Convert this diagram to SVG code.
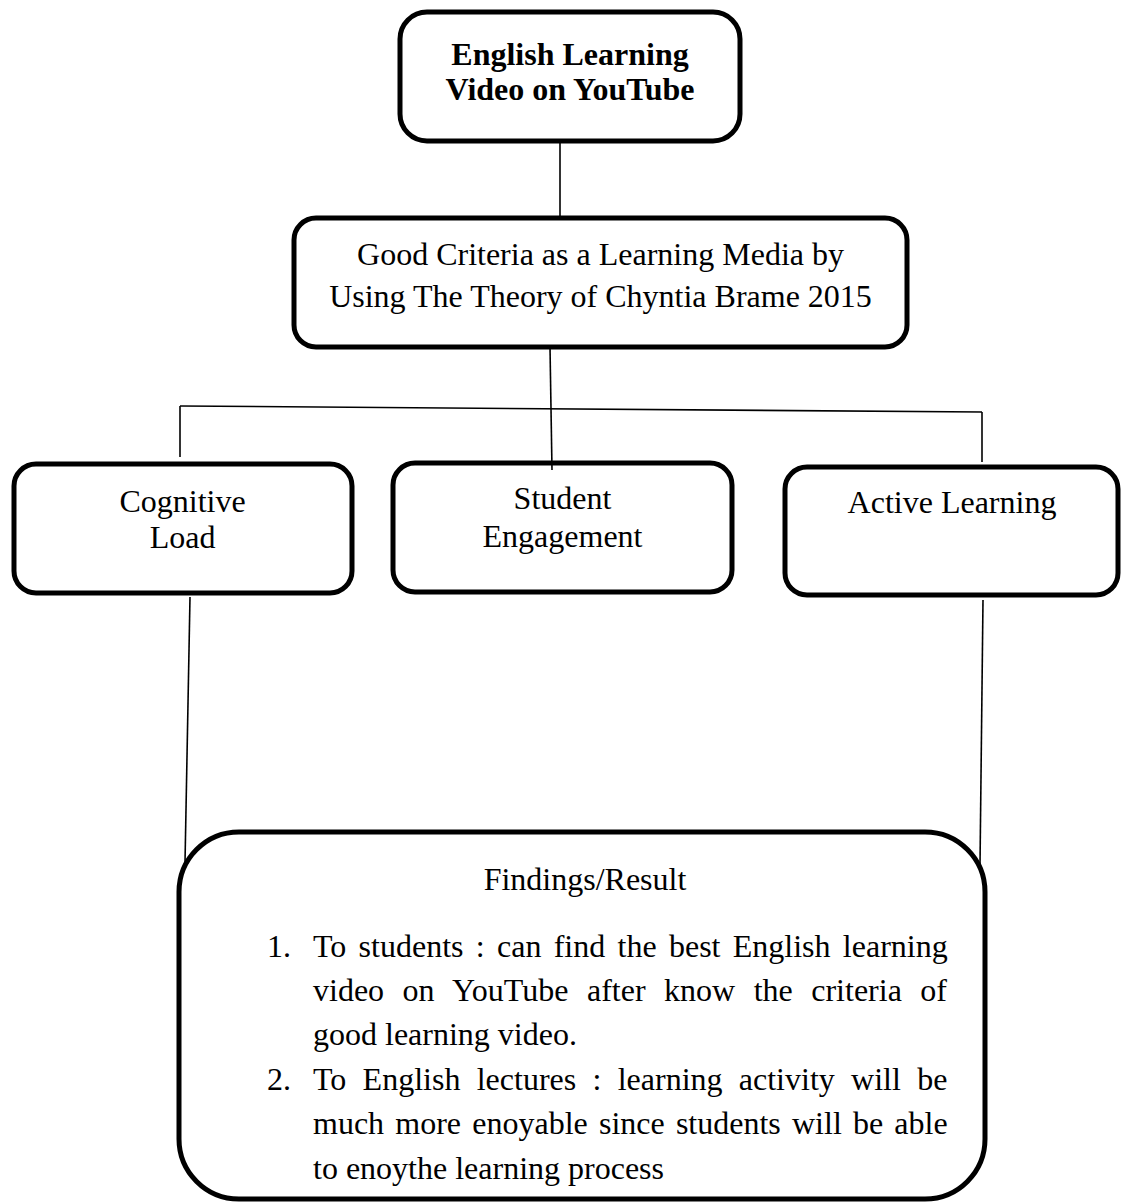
<svg xmlns="http://www.w3.org/2000/svg" width="1121" height="1203" viewBox="0 0 1121 1203">
  <style>
    .box { fill: #ffffff; stroke: #000000; stroke-width: 5; }
    .conn { stroke: #000000; stroke-width: 1.6; fill: none; }
    .t { font-family: "Liberation Serif", "Times New Roman", serif; font-size: 32px; fill: #000000; }
    .c { text-anchor: middle; }
    .b { font-weight: bold; }
  </style>
  <rect width="1121" height="1203" fill="#ffffff"/>

  <g id="node-youtube">
    <rect class="box" x="400" y="12" width="340" height="129" rx="27" ry="27"/>
    <text class="t c b" x="570" y="65">English Learning</text>
    <text class="t c b" x="570" y="100">Video on YouTube</text>
  </g>

  <g id="node-criteria">
    <rect class="box" x="294" y="218" width="613" height="129" rx="22" ry="22"/>
    <text class="t c" x="600.5" y="265">Good Criteria as a Learning Media by</text>
    <text class="t c" x="600.5" y="307">Using The Theory of Chyntia Brame 2015</text>
  </g>

  <g id="node-cognitive">
    <rect class="box" x="14" y="464" width="338" height="129" rx="22" ry="22"/>
    <text class="t c" x="182.5" y="512">Cognitive</text>
    <text class="t c" x="182.5" y="548">Load</text>
  </g>

  <g id="node-engagement">
    <rect class="box" x="393" y="463" width="339" height="129" rx="22" ry="22"/>
    <text class="t c" x="562.5" y="509">Student</text>
    <text class="t c" x="562.5" y="547">Engagement</text>
  </g>

  <g id="node-active">
    <rect class="box" x="785" y="467" width="333" height="128" rx="22" ry="22"/>
    <text class="t c" x="952" y="513">Active Learning</text>
  </g>

  <g id="node-findings">
    <rect class="box" x="179" y="832" width="806" height="367" rx="60" ry="60"/>
    <text class="t c" x="585" y="890">Findings/Result</text>
    <text class="t" x="267" y="957">1.</text>
    <text class="t" x="313" y="957" word-spacing="4.3">To students : can find the best English learning</text>
    <text class="t" x="313" y="1001" word-spacing="10.5">video on YouTube after know the criteria of</text>
    <text class="t" x="313" y="1045">good learning video.</text>
    <text class="t" x="267" y="1090">2.</text>
    <text class="t" x="313" y="1090" word-spacing="8.3">To English lectures : learning activity will be</text>
    <text class="t" x="313" y="1134" word-spacing="3.2">much more enoyable since students will be able</text>
    <text class="t" x="313" y="1179">to enoythe learning process</text>
  </g>

  <g id="connectors">
    <line class="conn" x1="560" y1="141" x2="560" y2="218"/>
    <line class="conn" x1="550" y1="347" x2="552" y2="470"/>
    <line class="conn" x1="180" y1="406" x2="982" y2="412"/>
    <line class="conn" x1="180" y1="406" x2="180" y2="457"/>
    <line class="conn" x1="982" y1="412" x2="982" y2="462"/>
    <line class="conn" x1="190" y1="597" x2="185" y2="863"/>
    <line class="conn" x1="983" y1="600" x2="980" y2="865"/>
  </g>
</svg>
